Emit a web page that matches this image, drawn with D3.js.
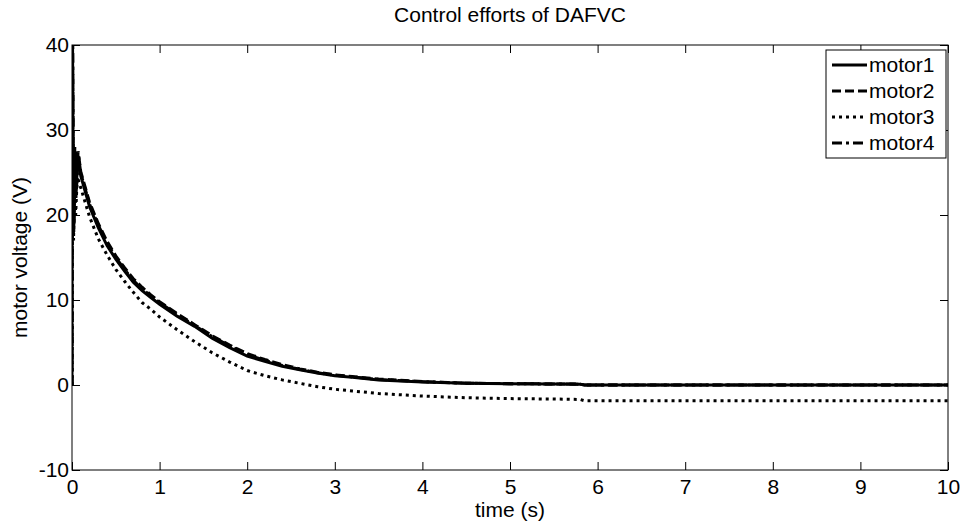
<!DOCTYPE html>
<html>
<head>
<meta charset="utf-8">
<script src="https://cdn.jsdelivr.net/npm/d3@7"></script>
<style>
  html, body { margin: 0; padding: 0; background: #fff; }
  svg { display: block; font-family: "Liberation Sans", Arial, sans-serif; }
</style>
</head>
<body>
<svg id="chart" width="962" height="524"></svg>
<script>
// Control voltages of the four motors (time in s, voltage in V)
const motor1 = [
  [0, 0], [0.004, 46], [0.012, 26], [0.02, 18], [0.03, 27], [0.045, 22], [0.065, 27],
  [0.1, 24.6], [0.2, 21.0], [0.3, 18.5], [0.4, 16.4], [0.5, 14.8], [0.6, 13.4],
  [0.7, 12.1], [0.8, 11.1], [0.9, 10.3], [1.0, 9.5], [1.2, 8.1], [1.4, 6.9],
  [1.6, 5.5], [1.8, 4.4], [2.0, 3.4], [2.2, 2.8], [2.4, 2.2], [2.6, 1.8],
  [2.8, 1.4], [3.0, 1.1], [3.2, 0.9], [3.5, 0.6], [4.0, 0.35], [4.5, 0.2],
  [5.0, 0.15], [5.5, 0.12], [5.8, 0.1], [5.85, 0.0], [6.0, 0.0], [7.0, 0.0],
  [8.0, 0.0], [9.0, 0.0], [10.0, 0.0]
];
const motor2 = [
  [0, 0], [0.005, 44], [0.014, 24], [0.022, 20], [0.032, 28], [0.048, 24], [0.07, 27.5],
  [0.1, 25.1], [0.2, 21.5], [0.3, 19.0], [0.4, 16.9], [0.5, 15.2], [0.6, 13.8],
  [0.7, 12.5], [0.8, 11.5], [0.9, 10.6], [1.0, 9.8], [1.2, 8.4], [1.4, 7.1],
  [1.6, 5.8], [1.8, 4.7], [2.0, 3.7], [2.2, 3.0], [2.4, 2.4], [2.6, 1.9],
  [2.8, 1.5], [3.0, 1.2], [3.2, 1.0], [3.5, 0.7], [4.0, 0.4], [4.5, 0.22],
  [5.0, 0.16], [5.5, 0.12], [5.8, 0.1], [5.85, 0.0], [6.0, 0.0], [7.0, 0.0],
  [8.0, 0.0], [9.0, 0.0], [10.0, 0.0]
];
const motor3 = [
  [0, 0], [0.004, 42], [0.011, 22], [0.018, 17], [0.028, 25], [0.042, 20], [0.06, 24.5],
  [0.1, 23.2], [0.2, 19.8], [0.3, 17.2], [0.4, 15.3], [0.5, 13.6], [0.6, 12.2],
  [0.7, 10.9], [0.8, 9.7], [0.9, 8.9], [1.0, 8.0], [1.2, 6.5], [1.4, 5.1],
  [1.6, 3.8], [1.8, 2.7], [2.0, 1.7], [2.2, 1.1], [2.4, 0.6], [2.6, 0.2],
  [2.8, -0.2], [3.0, -0.5], [3.2, -0.7], [3.5, -1.0], [4.0, -1.3], [4.5, -1.5],
  [5.0, -1.6], [5.5, -1.65], [5.8, -1.7], [5.85, -1.85], [6.0, -1.85], [7.0, -1.85],
  [8.0, -1.85], [9.0, -1.85], [10.0, -1.85]
];
const motor4 = [
  [0, 0], [0.006, 43], [0.015, 25], [0.024, 19], [0.034, 27], [0.05, 23], [0.075, 27],
  [0.1, 24.9], [0.2, 21.3], [0.3, 18.8], [0.4, 16.7], [0.5, 15.0], [0.6, 13.6],
  [0.7, 12.3], [0.8, 11.3], [0.9, 10.5], [1.0, 9.7], [1.2, 8.3], [1.4, 7.0],
  [1.6, 5.7], [1.8, 4.6], [2.0, 3.6], [2.2, 2.9], [2.4, 2.3], [2.6, 1.85],
  [2.8, 1.45], [3.0, 1.15], [3.2, 0.95], [3.5, 0.65], [4.0, 0.38], [4.5, 0.21],
  [5.0, 0.15], [5.5, 0.12], [5.8, 0.1], [5.85, 0.0], [6.0, 0.0], [7.0, 0.0],
  [8.0, 0.0], [9.0, 0.0], [10.0, 0.0]
];

const seriesNames = ["motor1", "motor2", "motor3", "motor4"];
const xTicks = [0, 1, 2, 3, 4, 5, 6, 7, 8, 9, 10];
const yTicks = [-10, 0, 10, 20, 30, 40];

const titleText = "Control efforts of DAFVC";
const xLabel = "time (s)";
const yLabel = "motor voltage (V)";

const svg = d3.select("#chart");
const margin = { left: 72, right: 14, top: 45, bottom: 54 };
const W = 962, H = 524;
const pw = W - margin.left - margin.right;
const ph = H - margin.top - margin.bottom;
const fontSize = 21;

const x = d3.scaleLinear().domain([0, 10]).range([0, pw]);
const y = d3.scaleLinear().domain([-10, 40]).range([ph, 0]);

const g = svg.append("g").attr("transform", `translate(${margin.left},${margin.top})`);

g.append("defs").append("clipPath").attr("id", "plotClip")
  .append("rect").attr("x", 0).attr("y", 0).attr("width", pw).attr("height", ph);

// Line styles per series: solid, dashed, dotted, dash-dot
const styles = [
  { dash: null, width: 3 },
  { dash: "9,4", width: 3 },
  { dash: "3,4", width: 3 },
  { dash: "10,4,3,4", width: 3 }
];
const seriesData = [motor1, motor2, motor3, motor4];

const line = d3.line().x(d => x(d[0])).y(d => y(d[1]));

const plot = g.append("g").attr("clip-path", "url(#plotClip)");
[2, 3, 1, 0].forEach(i => {
  plot.append("path")
    .datum(seriesData[i])
    .attr("fill", "none")
    .attr("stroke", "#000")
    .attr("stroke-width", styles[i].width)
    .attr("stroke-dasharray", styles[i].dash)
    .attr("d", line);
});

// Axes with inward ticks on all four sides
const tickLen = 8;
const fmt = d => String(d);
const axisStyle = sel => {
  sel.select(".domain").remove();
  sel.selectAll("line").attr("stroke", "#000").attr("stroke-width", 1);
  sel.selectAll("text").attr("font-size", fontSize).attr("fill", "#000")
    .attr("font-family", "'Liberation Sans', Arial, sans-serif");
};

g.append("g").attr("transform", `translate(0,${ph})`)
  .call(d3.axisBottom(x).tickValues(xTicks).tickFormat(fmt).tickSizeInner(-tickLen).tickSizeOuter(0).tickPadding(9))
  .call(axisStyle);
g.append("g")
  .call(d3.axisTop(x).tickValues(xTicks).tickSizeInner(-tickLen).tickSizeOuter(0).tickFormat(""))
  .call(axisStyle);
g.append("g")
  .call(d3.axisLeft(y).tickValues(yTicks).tickFormat(fmt).tickSizeInner(-tickLen).tickSizeOuter(0).tickPadding(3))
  .call(axisStyle);
g.append("g").attr("transform", `translate(${pw},0)`)
  .call(d3.axisRight(y).tickValues(yTicks).tickSizeInner(-tickLen).tickSizeOuter(0).tickFormat(""))
  .call(axisStyle);

g.append("rect").attr("x", 0).attr("y", 0).attr("width", pw).attr("height", ph)
  .attr("fill", "none").attr("stroke", "#000").attr("stroke-width", 1);

// Title and axis labels
svg.append("text").attr("x", margin.left + pw / 2).attr("y", 22)
  .attr("text-anchor", "middle").attr("font-size", fontSize).text(titleText);
svg.append("text").attr("x", margin.left + pw / 2).attr("y", 517)
  .attr("text-anchor", "middle").attr("font-size", fontSize).text(xLabel);
svg.append("text")
  .attr("transform", `translate(27,${margin.top + ph / 2}) rotate(-90)`)
  .attr("text-anchor", "middle").attr("font-size", fontSize).text(yLabel);

// Legend
const lg = g.append("g").attr("transform", `translate(${pw - 122},5)`);
lg.append("rect").attr("x", 0).attr("y", 0).attr("width", 120).attr("height", 108)
  .attr("fill", "#fff").attr("stroke", "#000").attr("stroke-width", 1);
seriesNames.forEach((name, i) => {
  const cy = 15 + i * 26;
  lg.append("line").attr("x1", 6).attr("x2", 41).attr("y1", cy).attr("y2", cy)
    .attr("stroke", "#000").attr("stroke-width", styles[i].width)
    .attr("stroke-dasharray", styles[i].dash);
  lg.append("text").attr("x", 43).attr("y", cy).attr("dy", "0.35em")
    .attr("font-size", fontSize).text(name);
});
</script>
</body>
</html>
